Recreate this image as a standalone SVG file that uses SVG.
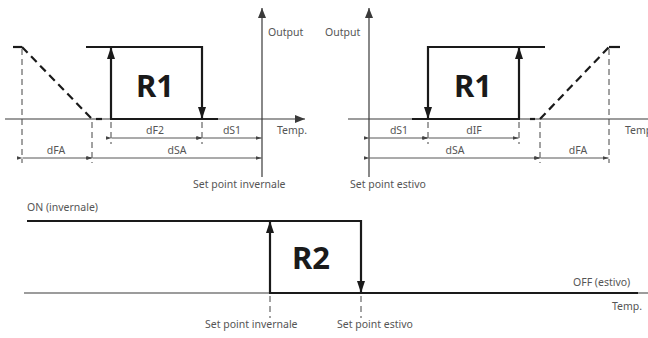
<svg xmlns="http://www.w3.org/2000/svg" width="648" height="338" viewBox="0 0 648 338">
<defs>
<marker id="ax" viewBox="0 0 10 8" refX="10" refY="4" markerWidth="10" markerHeight="8" markerUnits="userSpaceOnUse" orient="auto"><path d="M0,0 L10,4 L0,8 Z" fill="#3a3a3a"/></marker>
<marker id="big" viewBox="0 0 12 8" refX="12" refY="4" markerWidth="12" markerHeight="8" markerUnits="userSpaceOnUse" orient="auto"><path d="M0,0 L12,4 L0,8 Z" fill="#1a1a1a"/></marker>
<marker id="dim" viewBox="0 0 6 4" refX="6" refY="2" markerWidth="6" markerHeight="4" markerUnits="userSpaceOnUse" orient="auto"><path d="M0,0 L6,2 L0,4 Z" fill="#444"/></marker>
</defs>
<style>
.t{font-family:"Noto Sans","Liberation Sans",sans-serif;font-size:10.5px;fill:#555}
.m{text-anchor:middle}
.big{font-family:"Noto Sans","Liberation Sans",sans-serif;font-weight:bold;font-size:31px;fill:#1a1a1a;text-anchor:middle}
.axis{stroke:#3a3a3a;stroke-width:1.2;fill:none}
.thick{stroke:#1a1a1a;stroke-width:2.2;fill:none}
.dash{stroke:#1a1a1a;stroke-width:2.2;fill:none;stroke-dasharray:8 5}
.ext{stroke:#444;stroke-width:1;fill:none;stroke-dasharray:6 4}
.dimline{stroke:#444;stroke-width:0.9;fill:none;marker-start:url(#dim);marker-end:url(#dim)}
</style>

<g id="connectors">
<!-- LEFT PANEL -->
<line class="axis" x1="5" y1="119" x2="305" y2="119" marker-end="url(#ax)"/>
<line class="axis" x1="262" y1="177" x2="262" y2="8" marker-end="url(#ax)"/>
<line class="thick" x1="13" y1="47" x2="22" y2="47"/>
<line class="dash" x1="22" y1="47" x2="92" y2="119"/>
<line class="thick" x1="96" y1="119" x2="102" y2="119"/>
<line class="thick" x1="86" y1="47" x2="203" y2="47"/>
<line class="thick" x1="111" y1="119" x2="111" y2="47" marker-end="url(#big)"/>
<line class="thick" x1="202" y1="46" x2="202" y2="119" marker-end="url(#big)"/>
<line class="thick" x1="110" y1="119" x2="218" y2="119"/>
<line class="ext" x1="22" y1="49" x2="22" y2="163"/>
<line class="ext" x1="92" y1="122" x2="92" y2="163"/>
<line class="ext" x1="111" y1="122" x2="111" y2="144"/>
<line class="ext" x1="202" y1="122" x2="202" y2="144"/>
<line class="dimline" x1="111.5" y1="138" x2="201.5" y2="138"/>
<line class="dimline" x1="202.5" y1="138" x2="261.5" y2="138"/>
<line class="dimline" x1="22.5" y1="158" x2="91.5" y2="158"/>
<line class="dimline" x1="92.5" y1="158" x2="261.5" y2="158"/>

<!-- RIGHT PANEL -->
<line class="axis" x1="348" y1="119" x2="648" y2="119"/>
<line class="axis" x1="369" y1="177" x2="369" y2="8" marker-end="url(#ax)"/>
<line class="thick" x1="427" y1="47" x2="545" y2="47"/>
<line class="thick" x1="428" y1="46" x2="428" y2="119" marker-end="url(#big)"/>
<line class="thick" x1="519" y1="119" x2="519" y2="47" marker-end="url(#big)"/>
<line class="thick" x1="412" y1="119" x2="520" y2="119"/>
<line class="thick" x1="530" y1="119" x2="535" y2="119"/>
<line class="dash" x1="540" y1="119" x2="609" y2="47"/>
<line class="thick" x1="609" y1="47" x2="620" y2="47"/>
<line class="ext" x1="428" y1="122" x2="428" y2="144"/>
<line class="ext" x1="519" y1="122" x2="519" y2="144"/>
<line class="ext" x1="540" y1="122" x2="540" y2="163"/>
<line class="ext" x1="609" y1="49" x2="609" y2="163"/>
<line class="dimline" x1="369.5" y1="138" x2="427.5" y2="138"/>
<line class="dimline" x1="428.5" y1="138" x2="518.5" y2="138"/>
<line class="dimline" x1="369.5" y1="158" x2="539.5" y2="158"/>
<line class="dimline" x1="540.5" y1="158" x2="608.5" y2="158"/>

<!-- BOTTOM PANEL -->
<line class="thick" x1="27" y1="221" x2="362" y2="221"/>
<line class="axis" x1="24" y1="293" x2="648" y2="293"/>
<line class="thick" x1="269" y1="293" x2="638" y2="293"/>
<line class="thick" x1="270" y1="293" x2="270" y2="221" marker-end="url(#big)"/>
<line class="thick" x1="361" y1="220" x2="361" y2="293" marker-end="url(#big)"/>
<line class="ext" x1="270" y1="296" x2="270" y2="318"/>
<line class="ext" x1="361" y1="296" x2="361" y2="318"/>
</g>

<g id="left-panel">
<text class="big" x="155" y="97">R1</text>
<text class="t" x="268" y="36">Output</text>
<text class="t" x="277" y="134">Temp.</text>
<text class="t m" x="155" y="134">dF2</text>
<text class="t m" x="232" y="134">dS1</text>
<text class="t m" x="56" y="154">dFA</text>
<text class="t m" x="177" y="154">dSA</text>
<text class="t" x="193" y="188">Set point invernale</text>
</g>

<g id="right-panel">
<text class="big" x="473" y="97">R1</text>
<text class="t" x="325" y="36">Output</text>
<text class="t" x="625" y="134">Temp.</text>
<text class="t m" x="399" y="134">dS1</text>
<text class="t m" x="474" y="134">dIF</text>
<text class="t m" x="455" y="154">dSA</text>
<text class="t m" x="578" y="154">dFA</text>
<text class="t" x="350" y="188">Set point estivo</text>
</g>

<g id="bottom-panel">
<text class="big" x="311" y="269">R2</text>
<text class="t" x="27" y="211">ON (invernale)</text>
<text class="t" x="573" y="286">OFF (estivo)</text>
<text class="t" x="612" y="310">Temp.</text>
<text class="t" x="205" y="328">Set point invernale</text>
<text class="t" x="337" y="328">Set point estivo</text>
</g>
</svg>
